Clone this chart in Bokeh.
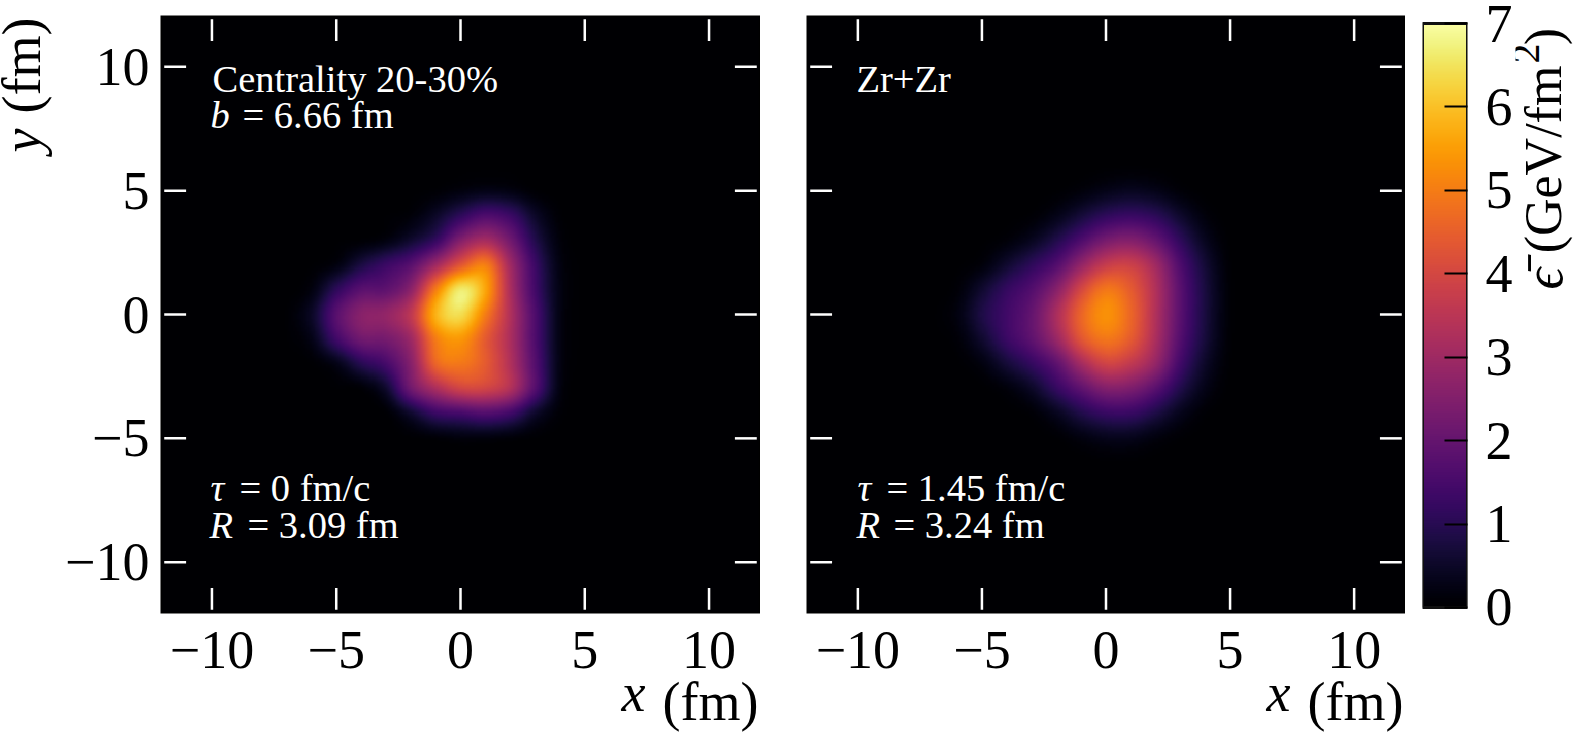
from bokeh.plotting import figure
from bokeh.layouts import row
from bokeh.models import Label, LinearColorMapper, FixedTicker, Range1d, LinearAxis
from bokeh.palettes import Inferno256
from bokeh.embed import file_html
from bokeh.resources import INLINE
import numpy as np

# --- data ---
ticks = [-10, -5, 0, 5, 10]
tick_labels = ["\u221210", "\u22125", "0", "5", "10"]
cbar_ticks = [0, 1, 2, 3, 4, 5, 6, 7]
grid_x = [-7, -6, -5, -4, -3, -2, -1, 0, 1, 2, 3, 4, 5]
grid_y = [6, 5, 4, 3, 2, 1, 0, -1, -2, -3, -4, -5, -6]
# energy density estimated by eye at 1 fm steps, rows from y=6 down to y=-6
left_values = [
    [0,    0,    0,    0,    0,    0,    0,    0.01, 0.01, 0.01, 0,    0,    0],
    [0,    0,    0,    0,    0,    0.01, 0.06, 0.18, 0.28, 0.22, 0.05, 0,    0],
    [0,    0,    0,    0,    0.03, 0.12, 0.5,  1.1,  1.6,  1.3,  0.5,  0.06, 0],
    [0,    0,    0.02, 0.06, 0.2,  0.6,  1.2,  2.5,  3.1,  2.2,  0.9,  0.14, 0],
    [0,    0.03, 0.2,  0.8,  1.3,  1.8,  3.0,  4.3,  5.0,  3.0,  1.3,  0.22, 0.01],
    [0,    0.2,  1.1,  1.8,  1.9,  2.7,  5.0,  6.6,  5.6,  3.2,  1.4,  0.25, 0.01],
    [0.05, 0.5,  1.8,  2.6,  2.8,  3.6,  5.8,  6.4,  5.0,  3.3,  1.6,  0.25, 0.01],
    [0.03, 0.3,  1.4,  2.2,  2.3,  3.0,  5.0,  5.4,  4.4,  3.2,  1.6,  0.25, 0.01],
    [0,    0.04, 0.3,  1.0,  1.5,  2.6,  4.6,  4.9,  4.4,  3.3,  1.7,  0.25, 0.01],
    [0,    0,    0.03, 0.08, 0.6,  2.2,  3.2,  3.9,  3.9,  3.3,  1.7,  0.22, 0.01],
    [0,    0,    0,    0,    0.05, 0.6,  1.3,  1.5,  1.7,  1.4,  0.55, 0.08, 0],
    [0,    0,    0,    0,    0,    0.03, 0.1,  0.18, 0.18, 0.12, 0.04, 0,    0],
    [0,    0,    0,    0,    0,    0,    0,    0.01, 0.01, 0,    0,    0,    0],
]
right_values = [
    [0,    0,    0,    0,    0,    0,    0,    0.02, 0.03, 0.02, 0,    0,    0],
    [0,    0,    0,    0,    0,    0.03, 0.14, 0.3,  0.4,  0.3,  0.1,  0.01, 0],
    [0,    0,    0,    0.01, 0.06, 0.3,  0.7,  1.1,  1.25, 1.05, 0.55, 0.14, 0],
    [0,    0,    0.02, 0.12, 0.4,  0.9,  1.6,  2.3,  2.5,  2.0,  1.1,  0.38, 0.02],
    [0,    0.02, 0.15, 0.6,  1.1,  1.7,  2.8,  3.7,  3.8,  3.0,  1.6,  0.65, 0.06],
    [0,    0.1,  0.6,  1.2,  1.7,  2.6,  4.0,  4.9,  4.4,  3.3,  1.8,  0.75, 0.08],
    [0.02, 0.2,  0.85, 1.4,  2.0,  3.2,  4.6,  5.3,  4.6,  3.3,  1.8,  0.75, 0.08],
    [0.01, 0.1,  0.6,  1.3,  1.9,  2.9,  4.3,  4.9,  4.4,  3.2,  1.7,  0.7,  0.07],
    [0,    0.02, 0.2,  0.7,  1.2,  1.9,  3.1,  3.9,  3.6,  2.8,  1.4,  0.5,  0.04],
    [0,    0,    0.02, 0.15, 0.5,  1.2,  1.9,  2.5,  2.4,  1.8,  0.9,  0.28, 0.01],
    [0,    0,    0,    0.01, 0.08, 0.4,  0.9,  1.25, 1.25, 0.85, 0.35, 0.06, 0],
    [0,    0,    0,    0,    0,    0.04, 0.2,  0.35, 0.35, 0.18, 0.05, 0,    0],
    [0,    0,    0,    0,    0,    0,    0,    0.02, 0.02, 0,    0,    0,    0],
]

SERIF = "Liberation Serif"
FS = "54px"
NOTE = "38.5px"
HEIGHT = 735
TOP, BOTTOM = 15, 122
mapper = LinearColorMapper(palette=Inferno256, low=0, high=7)


def kernel(t):
    # Catmull-Rom weights, display resampling of the estimated grid (like imshow's bicubic)
    return np.stack([
        -0.5 * t + t**2 - 0.5 * t**3,
        1 - 2.5 * t**2 + 1.5 * t**3,
        0.5 * t + 2 * t**2 - 1.5 * t**3,
        -0.5 * t**2 + 0.5 * t**3,
    ])


def resample_axis(a, n):
    m = a.shape[0]
    pos = np.linspace(0, m - 1, (m - 1) * n + 1)
    i = np.clip(np.floor(pos).astype(int), 0, m - 2)
    w = kernel(pos - i)
    out = 0
    for k in range(4):
        idx = np.clip(i + k - 1, 0, m - 1)
        out = out + a[idx] * w[k].reshape((-1,) + (1,) * (a.ndim - 1))
    return out


def field(values):
    full = np.zeros((25, 25))
    arr = np.array(values, dtype=float)[::-1]  # bottom row first
    x0 = grid_x[0] + 12
    y0 = grid_y[-1] + 12
    full[y0:y0 + arr.shape[0], x0:x0 + arr.shape[1]] = arr
    up = resample_axis(resample_axis(full, 12).T, 12).T
    return np.clip(up, 0, None)


def panel(width, left, values, show_y):
    p = figure(width=width, height=HEIGHT, min_border_left=left, min_border_right=0,
               min_border_top=TOP, min_border_bottom=BOTTOM,
               x_range=Range1d(-12.07, 12.07), y_range=Range1d(-12.07, 12.07),
               toolbar_location=None, output_backend="svg",
               background_fill_color="black", outline_line_color=None)
    p.grid.visible = False
    p.image(image=[field(values)], x=-12, y=-12, dw=24, dh=24, color_mapper=mapper)
    for ax in (p.xaxis[0], p.yaxis[0]):
        ax.ticker = FixedTicker(ticks=ticks)
        ax.major_label_overrides = dict(zip(ticks, tick_labels))
        ax.major_tick_line_color = None
        ax.minor_tick_line_color = None
        ax.axis_line_color = None
        ax.major_label_text_font = SERIF
        ax.major_label_text_font_size = FS
        ax.major_label_text_color = "black"
    p.xaxis[0].major_label_standoff = 12
    p.yaxis[0].major_label_standoff = 5
    p.yaxis[0].major_label_orientation = "horizontal"
    p.yaxis[0].visible = show_y
    # white ticks sit slightly inside the frame edge
    near, far = 11.92, 11.04
    tx = np.array(ticks, dtype=float)
    one = np.ones_like(tx)
    for s in (-1, 1):
        p.segment(tx, s * near * one, tx, s * far * one, line_color="white", line_width=2.5)
        p.segment(s * near * one, tx, s * far * one, tx, line_color="white", line_width=2.5)
    return p


def to_x(p, frame, px):
    return p.x_range.start + (px - frame[0]) / (frame[1] - frame[0]) * (p.x_range.end - p.x_range.start)


def to_y(p, frame, py):
    return p.y_range.end - (py - frame[2]) / (frame[3] - frame[2]) * (p.y_range.end - p.y_range.start)


def put(p, frame, px, py, text, italic=False, size=NOTE, color="white"):
    p.add_layout(Label(x=to_x(p, frame, px), y=to_y(p, frame, py), text=text, text_font=SERIF,
                       text_font_size=size, text_font_style="italic" if italic else "normal",
                       text_color=color, text_baseline="alphabetic"))


def text_axis(p, frame, centers_px, texts, standoff, italic=False, size=FS):
    # x labels below the frame: a tick-less axis stacked under the main one, one tick per text
    at = [to_x(p, frame, c) for c in centers_px]
    ax = LinearAxis(ticker=FixedTicker(ticks=at), major_label_overrides=dict(zip(at, texts)))
    ax.major_tick_line_color = None
    ax.minor_tick_line_color = None
    ax.axis_line_color = None
    ax.major_label_text_font = SERIF
    ax.major_label_text_font_size = size
    ax.major_label_text_font_style = "italic" if italic else "normal"
    ax.major_label_text_color = "black"
    ax.major_label_standoff = standoff
    ax.major_label_orientation = "horizontal"
    p.add_layout(ax, "below")


def text_strip(x0, x1):
    # a narrow figure that only holds rotated label text, its data units are page pixels
    p = figure(width=x1 - x0, height=HEIGHT, min_border_left=0, min_border_right=0,
               min_border_top=TOP, min_border_bottom=BOTTOM,
               x_range=Range1d(x0, x1), y_range=Range1d(HEIGHT - BOTTOM, TOP),
               toolbar_location=None, output_backend="svg", outline_line_color=None)
    p.grid.visible = False
    p.axis.visible = False
    return p


def vtext(p, px, py, text, italic=False, size=FS):
    p.add_layout(Label(x=px, y=py, text=text, text_font=SERIF, text_font_size=size,
                       text_font_style="italic" if italic else "normal", text_color="black",
                       text_align="center", text_baseline="middle", angle=90, angle_units="deg"))


# y label strip
p0 = text_strip(0, 60)
vtext(p0, 21, 140, "y", italic=True)
vtext(p0, 21, 65, "(fm)")

# left panel
p1 = panel(700, 100, left_values, True)
F1 = (160, 760, 15, 613)
put(p1, F1, 212, 78, "Centrality 20-30%")
put(p1, F1, 210, 114, "b", italic=True)
put(p1, F1, 242, 114, "= 6.66 fm")
put(p1, F1, 210, 487, "\u03c4", italic=True)
put(p1, F1, 239, 487, "= 0 fm/c")
put(p1, F1, 209, 524, "R", italic=True)
put(p1, F1, 247, 524, "= 3.09 fm")
text_axis(p1, F1, [633], ["x"], -14, italic=True)
text_axis(p1, F1, [710], ["(fm)"], -60)

# right panel
p2 = panel(645, 46, right_values, False)
F2 = (806, 1405, 15, 613)
put(p2, F2, 856, 78, "Zr+Zr")
put(p2, F2, 857, 487, "\u03c4", italic=True)
put(p2, F2, 886, 487, "= 1.45 fm/c")
put(p2, F2, 856, 524, "R", italic=True)
put(p2, F2, 893, 524, "= 3.24 fm")
text_axis(p2, F2, [1278], ["x"], -14, italic=True)
text_axis(p2, F2, [1355], ["(fm)"], -60)

# colour bar
p3 = figure(width=110, height=HEIGHT, min_border_left=17, min_border_right=48,
            min_border_top=TOP, min_border_bottom=BOTTOM,
            x_range=Range1d(0, 1), y_range=Range1d(-0.072, 7.096),
            toolbar_location=None, output_backend="svg", outline_line_color=None)
p3.grid.visible = False
p3.xaxis.visible = False
p3.yaxis.visible = False
ramp = np.linspace(0, 7, 512).reshape(-1, 1)
p3.image(image=[ramp], x=0, y=0, dw=1, dh=7, color_mapper=mapper)
p3.quad(left=0, right=1, bottom=0, top=7, fill_color=None, line_color="#111111", line_width=3)
cax = LinearAxis(ticker=FixedTicker(ticks=cbar_ticks))
cax.major_tick_in = 23
cax.major_tick_out = 0
cax.major_tick_line_color = "black"
cax.major_tick_line_width = 2
cax.minor_tick_line_color = None
cax.axis_line_color = None
cax.major_label_text_font = SERIF
cax.major_label_text_font_size = FS
cax.major_label_text_color = "black"
cax.major_label_standoff = 18
cax.major_label_orientation = "horizontal"
p3.add_layout(cax, "right")

# colour bar label strip
p4 = text_strip(1515, 1578)
vtext(p4, 1543, 278, "\u03f5\u0304", italic=True)
vtext(p4, 1543, 159, "(GeV/fm", size="52px")
vtext(p4, 1525, 53, "2", size="40px")
vtext(p4, 1543, 36, ")", size="52px")

layout = row(p0, p1, p2, p3, p4, spacing=0)
open("out.html", "w").write(file_html(layout, INLINE))
